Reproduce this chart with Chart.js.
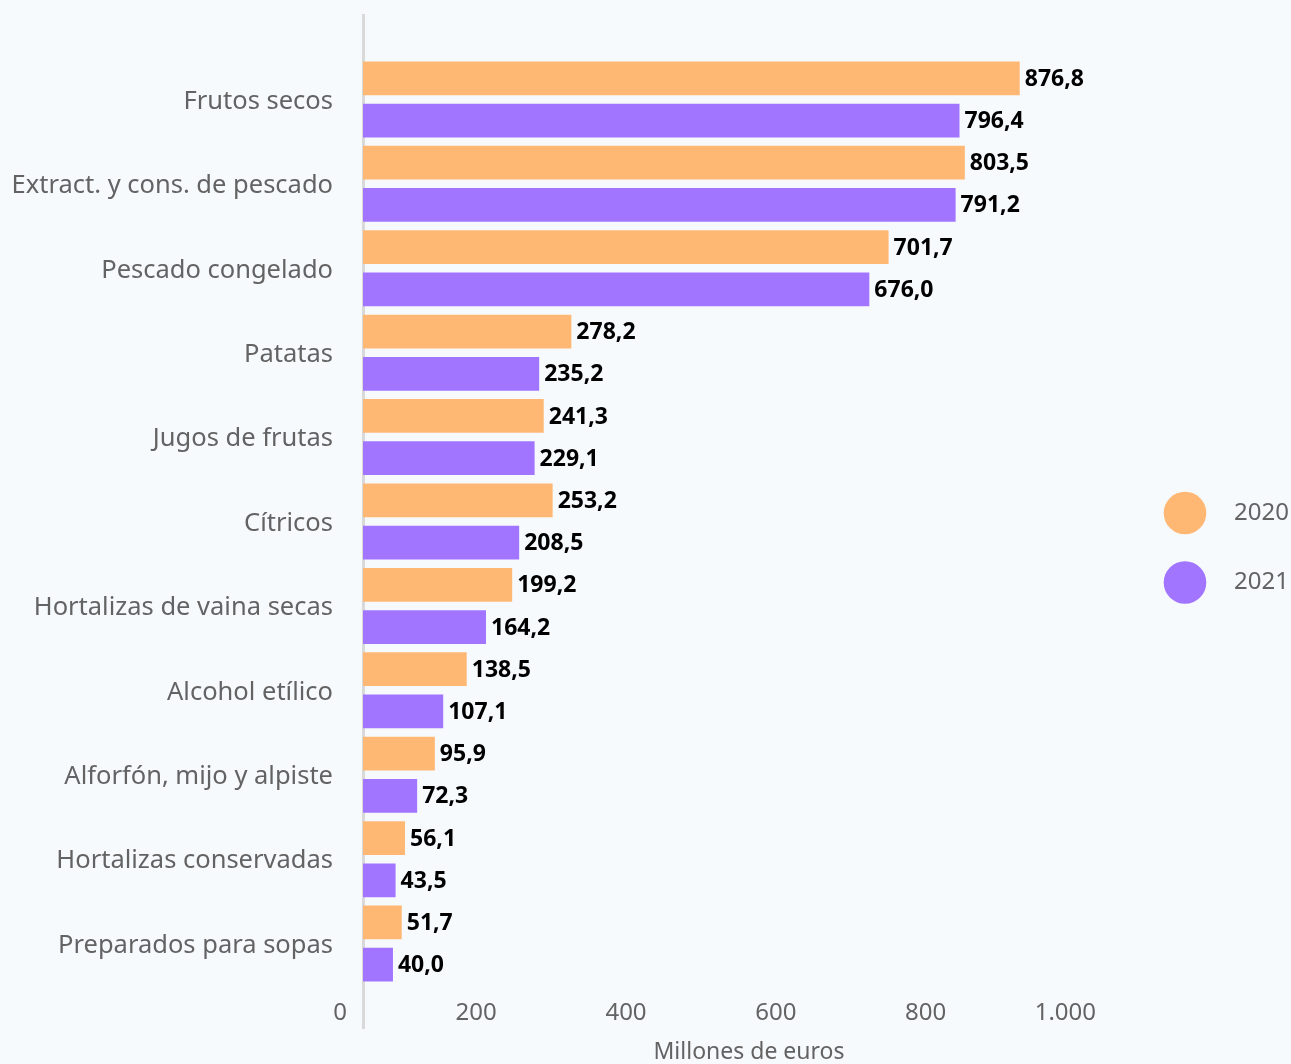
<!DOCTYPE html>
<html lang="es">
<head>
<meta charset="utf-8">
<title>Importaciones</title>
<script src="https://cdn.jsdelivr.net/npm/chart.js@4/dist/chart.umd.min.js"></script>
<style>
  html, body { margin: 0; padding: 0; background: #f6fafd; }
  #wrap { width: 1291px; height: 1064px; }
</style>
</head>
<body>
<div id="wrap"><canvas id="grafico" width="1291" height="1064"></canvas></div>
<script>
const categorias = [
    'Frutos secos',
    'Extract. y cons. de pescado',
    'Pescado congelado',
    'Patatas',
    'Jugos de frutas',
    'Cítricos',
    'Hortalizas de vaina secas',
    'Alcohol etílico',
    'Alforfón, mijo y alpiste',
    'Hortalizas conservadas',
    'Preparados para sopas'
];
const valores2020 = [876.8, 803.5, 701.7, 278.2, 241.3, 253.2, 199.2, 138.5, 95.9, 56.1, 51.7];
const valores2021 = [796.4, 791.2, 676.0, 235.2, 229.1, 208.5, 164.2, 107.1, 72.3, 43.5, 40.0];
const series = ['2020', '2021'];
const marcasX = [0, 200, 400, 600, 800, 1000];
const colores = ['#ffb874', '#a175ff'];
const tituloEjeX = 'Millones de euros';

const fuente = '"Noto Sans", "Open Sans", sans-serif';
const gris = '#636363';

// hueco vacío arriba y abajo, como en el original
const etiquetas = ['', ...categorias, ''];
const relleno = arr => [null, ...arr, null];

function formatoNumero(v, dec) {
    let txt = dec ? v.toFixed(dec) : String(Math.round(v));
    let [ent, frac] = txt.split('.');
    ent = ent.replace(/\B(?=(\d{3})+(?!\d))/g, '.');
    return frac ? ent + ',' + frac : ent;
}

const etiquetasValores = {
    id: 'etiquetasValores',
    afterDatasetsDraw(chart) {
        const ctx = chart.ctx;
        ctx.save();
        ctx.font = 'bold 23px ' + fuente;
        ctx.fillStyle = '#000';
        ctx.textAlign = 'left';
        ctx.textBaseline = 'middle';
        chart.data.datasets.forEach((ds, i) => {
            const meta = chart.getDatasetMeta(i);
            meta.data.forEach((bar, j) => {
                const v = ds.data[j];
                if (v === null) return;
                ctx.fillText(formatoNumero(v, 1), bar.x + 5, bar.y + 1);
            });
        });
        ctx.restore();
    }
};

const leyenda = {
    id: 'leyenda',
    afterDraw(chart) {
        const ctx = chart.ctx;
        ctx.save();
        chart.data.datasets.forEach((ds, i) => {
            const y = 513 + i * 69.5;
            ctx.beginPath();
            ctx.arc(1185, y, 21.3, 0, Math.PI * 2);
            ctx.fillStyle = ds.backgroundColor;
            ctx.fill();
            ctx.font = '24px ' + fuente;
            ctx.fillStyle = gris;
            ctx.textAlign = 'left';
            ctx.textBaseline = 'middle';
            ctx.fillText(ds.label, 1234, y);
        });
        ctx.restore();
    }
};

function sinRelleno(scale) {
    scale.paddingTop = 0;
    scale.paddingBottom = 0;
    scale.paddingLeft = 0;
    scale.paddingRight = 0;
}

new Chart(document.getElementById('grafico'), {
    type: 'bar',
    data: {
        labels: etiquetas,
        datasets: [
            { label: series[0], data: relleno(valores2020), backgroundColor: colores[0] },
            { label: series[1], data: relleno(valores2021), backgroundColor: colores[1] }
        ]
    },
    options: {
        indexAxis: 'y',
        responsive: false,
        animation: false,
        barPercentage: 0.8,
        categoryPercentage: 1,
        layout: { padding: { top: 15, right: 156, left: 0, bottom: 0 } },
        plugins: {
            legend: { display: false },
            tooltip: { enabled: false }
        },
        scales: {
            y: {
                offset: false,
                grid: { display: false, drawTicks: false },
                border: { display: true, color: '#d9d9d9', width: 3 },
                ticks: {
                    autoSkip: false,
                    padding: 30,
                    labelOffset: 2,
                    color: gris,
                    font: { family: fuente, size: 25.5 }
                },
                afterFit(scale) { scale.width = 363; sinRelleno(scale); }
            },
            x: {
                min: 0,
                max: 1030.7,
                grid: { display: false, drawTicks: false },
                border: { display: false },
                ticks: {
                    mirror: true,
                    align: 'end',
                    labelOffset: -16,
                    padding: 0,
                    color: gris,
                    font: { family: fuente, size: 24 },
                    callback: v => formatoNumero(v, 0)
                },
                afterBuildTicks(scale) {
                    scale.ticks = marcasX.map(v => ({ value: v }));
                },
                title: {
                    display: true,
                    text: tituloEjeX,
                    color: gris,
                    padding: { top: 0, bottom: 0 },
                    font: { family: fuente, size: 23, lineHeight: 1 }
                },
                afterFit(scale) { scale.height = 36; sinRelleno(scale); }
            }
        }
    },
    plugins: [etiquetasValores, leyenda]
});
</script>
</body>
</html>
